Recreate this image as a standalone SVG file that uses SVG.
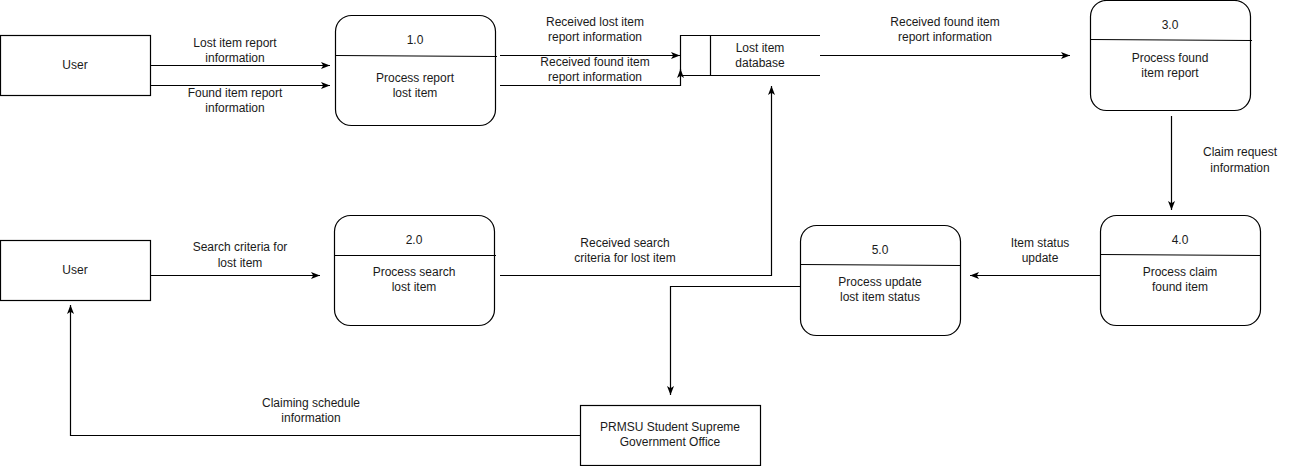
<svg xmlns="http://www.w3.org/2000/svg" width="1291" height="466" viewBox="0 0 1291 466">
<style>
.box{fill:#fff;stroke:#000;stroke-width:1.2}
.ln{fill:none;stroke:#000;stroke-width:1.2}
.t{font-family:"Liberation Sans",Arial,sans-serif;font-size:12px;fill:#1a1a1a;text-anchor:middle}
.e{fill:none;stroke:#000;stroke-width:1.2}
</style>
<defs>
<marker id="arr" viewBox="0 0 9 7" refX="9" refY="3.5" markerWidth="9" markerHeight="7" markerUnits="userSpaceOnUse" orient="auto">
<path d="M0,0 L9,3.5 L0,7 L2.2,3.5 Z" fill="#000"/>
</marker>
</defs>
<rect width="1291" height="466" fill="#fff"/>

<g id="connectors">
<path class="e" d="M150,65.5 H330" marker-end="url(#arr)"/>
<path class="e" d="M150,85.5 H330" marker-end="url(#arr)"/>
<path class="e" d="M500,55.5 H680" marker-end="url(#arr)"/>
<path class="e" d="M500,85.5 H680.5 V69" marker-end="url(#arr)"/>
<path class="e" d="M820,55.5 H1070" marker-end="url(#arr)"/>
<path class="e" d="M1171.5,116 V210" marker-end="url(#arr)"/>
<path class="e" d="M1100,275.5 H970" marker-end="url(#arr)"/>
<path class="e" d="M150,275.5 H320" marker-end="url(#arr)"/>
<path class="e" d="M500,275.5 H771.5 V86" marker-end="url(#arr)"/>
<path class="e" d="M800,286.5 H670.5 V395" marker-end="url(#arr)"/>
<path class="e" d="M580,435.5 H70.5 V305" marker-end="url(#arr)"/>
<text class="t" x="235" y="47">Lost item report</text>
<text class="t" x="235" y="62">information</text>
<text class="t" x="235" y="97">Found item report</text>
<text class="t" x="235" y="112">information</text>
<text class="t" x="595" y="26">Received lost item</text>
<text class="t" x="595" y="41">report information</text>
<text class="t" x="595" y="66">Received found item</text>
<text class="t" x="595" y="81">report information</text>
<text class="t" x="945" y="26">Received found item</text>
<text class="t" x="945" y="41">report information</text>
<text class="t" x="1240" y="156">Claim request</text>
<text class="t" x="1240" y="172">information</text>
<text class="t" x="240" y="251">Search criteria for</text>
<text class="t" x="240" y="267">lost item</text>
<text class="t" x="625" y="247">Received search</text>
<text class="t" x="625" y="262">criteria for lost item</text>
<text class="t" x="1040" y="247">Item status</text>
<text class="t" x="1040" y="262">update</text>
<text class="t" x="311" y="407">Claiming schedule</text>
<text class="t" x="311" y="422">information</text>
</g>

<g id="user1">
<rect class="box" x="0.5" y="35.5" width="150" height="60"/>
<text class="t" x="75" y="69">User</text>
</g>

<g id="user2">
<rect class="box" x="0.5" y="240.5" width="150" height="60"/>
<text class="t" x="75" y="274">User</text>
</g>

<g id="p1">
<rect class="box" x="335.5" y="15.5" width="160" height="110" rx="16"/>
<line class="ln" x1="335.5" y1="55.5" x2="497" y2="56.5"/>
<text class="t" x="415" y="44">1.0</text>
<text class="t" x="415" y="82">Process report</text>
<text class="t" x="415" y="97">lost item</text>
</g>

<g id="store">
<path class="ln" d="M820,35.5 H680.5 V75.5 H820 M710.5,35.5 V75.5"/>
<text class="t" x="760" y="52">Lost item</text>
<text class="t" x="760" y="67">database</text>
</g>

<g id="p3">
<rect class="box" x="1090.5" y="0.5" width="160" height="110" rx="16"/>
<line class="ln" x1="1090.5" y1="39.5" x2="1252" y2="40.5"/>
<text class="t" x="1170" y="29">3.0</text>
<text class="t" x="1170" y="62">Process found</text>
<text class="t" x="1170" y="77">item report</text>
</g>

<g id="p2">
<rect class="box" x="334.5" y="215.5" width="160" height="110" rx="16"/>
<line class="ln" x1="334.5" y1="255.5" x2="496" y2="255.5"/>
<text class="t" x="414" y="244">2.0</text>
<text class="t" x="414" y="276">Process search</text>
<text class="t" x="414" y="291">lost item</text>
</g>

<g id="p5">
<rect class="box" x="800.5" y="225.5" width="160" height="110" rx="16"/>
<line class="ln" x1="800.5" y1="264.5" x2="961" y2="265.5"/>
<text class="t" x="880" y="254">5.0</text>
<text class="t" x="880" y="286">Process update</text>
<text class="t" x="880" y="301">lost item status</text>
</g>

<g id="p4">
<rect class="box" x="1100.5" y="215.5" width="160" height="110" rx="16"/>
<line class="ln" x1="1100.5" y1="254.5" x2="1261" y2="255.5"/>
<text class="t" x="1180" y="244">4.0</text>
<text class="t" x="1180" y="276">Process claim</text>
<text class="t" x="1180" y="291">found item</text>
</g>

<g id="prmsu">
<rect class="box" x="580.5" y="405.5" width="180" height="60"/>
<text class="t" x="670" y="431">PRMSU Student Supreme</text>
<text class="t" x="670" y="446">Government Office</text>
</g>
</svg>
